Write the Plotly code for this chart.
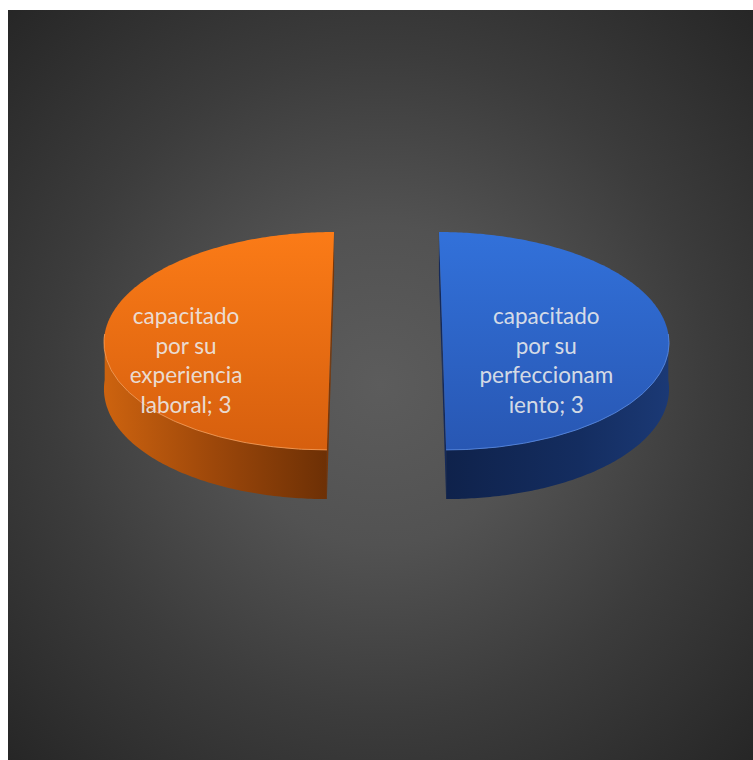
import math

import numpy as np
import plotly.graph_objects as go

# ---- data -------------------------------------------------------------
categories = [
    "capacitado por su perfeccionamiento",
    "capacitado por su experiencia laboral",
]
values = [3, 3]

# ---- styling ----------------------------------------------------------
TOP_FILL = [("#3271da", "#2857b3"), ("#fb7b17", "#d65f0e")]
SIDE_FILL = [
    [[0, "#0f224b"], [0.6, "#142d60"], [1, "#1b3975"]],
    [[0, "#cd630f"], [0.5, "#9c470a"], [1, "#6d3005"]],
]
CUT_FILL = ["#14295a", "#7a3607"]
RIM_COLOR = ["rgba(90,140,230,0.8)", "rgba(250,160,90,0.8)"]
LABEL_COLOR = "rgba(235,235,235,0.9)"

W, H_PX = 753, 760
ML, MT = 8, 10

# disc geometry in screen units (x right, y down)
CX, CY = 386.5, 334.0     # projected centre of the top face
RADIUS = 226.0            # horizontal radius
HALF_B = 108.5            # vertical half axis of top ellipse
PERSP = 0.064             # perspective strength (far side smaller)
THICK = 46.0              # slab thickness
EXPLODE = 0.247           # slice offset, fraction of radius
LABEL_R = [0.46, 0.64]    # label distance from slice centre, fraction of radius
LABEL_DROP = 29.0
LINE_GAP = 29.6
WRAP = 12


def wrap_label(text, width):
    """Word wrap; words longer than a line are cut on a fresh line."""
    out, cur = [], ""
    for word in text.split():
        cand = word if not cur else cur + " " + word
        if len(cand) <= width:
            cur = cand
            continue
        if cur:
            out.append(cur)
        while len(word) > width:
            out.append(word[:width])
            word = word[width:]
        cur = word
    if cur:
        out.append(cur)
    return out


def project(X, Z, depth):
    """X: right, Z: away from viewer (unit radius), depth: 0 top, 1 bottom."""
    s = 1.0 / (1.0 + PERSP * Z)
    x = CX + X * RADIUS * s
    y = CY - Z * HALF_B * s + depth * THICK * s
    return x, y


fig = go.Figure()

# ---- radial background ------------------------------------------------
bx0, bx1 = ML, W
by0, by1 = MT, H_PX
mx, my = (bx0 + bx1) / 2, (by0 + by1) / 2
hw, hh = (bx1 - bx0) / 2 * 1.42, (by1 - by0) / 2 * 1.42
fig.add_trace(go.Scatter(
    x=[mx - hw, mx + hw, mx + hw, mx - hw, mx - hw],
    y=[my - hh, my - hh, my + hh, my + hh, my - hh],
    mode="none", fill="toself",
    fillgradient=dict(type="radial", colorscale=[
        [0, "#5c5c5c"], [0.3, "#525252"], [0.62, "#3c3c3c"], [1, "#262626"]]),
    hoverinfo="skip",
))

# ---- slices -----------------------------------------------------------
total = float(sum(values))
start = 0.0
for i, (cat, val) in enumerate(zip(categories, values)):
    a0 = start / total * 2 * math.pi
    a1 = (start + val) / total * 2 * math.pi
    start += val
    am = (a0 + a1) / 2
    ex, ez = EXPLODE * math.sin(am), EXPLODE * math.cos(am)

    th = np.linspace(a0, a1, 241)
    ax = ex + np.sin(th)
    az = ez + np.cos(th)

    # flat cut faces (visible ones face the centre line)
    for ang in (a0, a1):
        fx = np.array([ex, ex + math.sin(ang), ex + math.sin(ang), ex])
        fz = np.array([ez, ez + math.cos(ang), ez + math.cos(ang), ez])
        fd = np.array([0, 0, 1, 1])
        px, py = project(fx, fz, fd)
        fig.add_trace(go.Scatter(
            x=np.append(px, px[0]), y=np.append(py, py[0]),
            mode="none", fill="toself", fillcolor=CUT_FILL[i], hoverinfo="skip"))

    # outer curved wall: front half only
    front = np.cos(th) <= 1e-9
    if front.any():
        sx, sz = ax[front], az[front]
        tx, ty = project(sx, sz, 0)
        bx, by = project(sx, sz, 1)
        wx = np.concatenate([tx, bx[::-1], tx[:1]])
        wy = np.concatenate([ty, by[::-1], ty[:1]])
        fig.add_trace(go.Scatter(
            x=wx, y=wy, mode="none", fill="toself",
            fillgradient=dict(type="horizontal", colorscale=SIDE_FILL[i],
                              start=float(wx.min()), stop=float(wx.max())),
            hoverinfo="skip"))

    # top face
    cx_, cy_ = project(ex, ez, 0)
    tx, ty = project(ax, az, 0)
    px = np.concatenate([[cx_], tx, [cx_]])
    py = np.concatenate([[cy_], ty, [cy_]])
    fig.add_trace(go.Scatter(
        x=px, y=py, mode="none", fill="toself",
        fillgradient=dict(type="vertical",
                          colorscale=[[0, TOP_FILL[i][0]], [1, TOP_FILL[i][1]]],
                          start=float(py.min()), stop=float(py.max())),
        hoverinfo="skip"))

    # light rim along the front edge of the top face
    if front.any():
        rx, ry = project(ax[front], az[front], 0)
        fig.add_trace(go.Scatter(
            x=rx, y=ry, mode="lines",
            line=dict(color=RIM_COLOR[i], width=1), hoverinfo="skip"))

    # data label, wrapped like the inside labels of the chart
    lines = wrap_label(f"{cat}; {val}", WRAP)
    lr = LABEL_R[i]
    lx, ly = project(ex + lr * math.sin(am), ez + lr * math.cos(am), 0)
    ly += LABEL_DROP
    n = len(lines)
    fig.add_trace(go.Scatter(
        x=[lx] * n,
        y=[ly + (k - (n - 1) / 2) * LINE_GAP for k in range(n)],
        mode="text", text=lines, textposition="middle center",
        textfont=dict(family="Lato, Carlito, sans-serif", size=22.5, color=LABEL_COLOR),
        hoverinfo="skip"))

fig.update_layout(
    width=W, height=H_PX,
    margin=dict(l=ML, r=0, t=MT, b=0, pad=0),
    paper_bgcolor="white", plot_bgcolor="#262626",
    showlegend=False,
    xaxis=dict(range=[ML, W], visible=False, fixedrange=True),
    yaxis=dict(range=[H_PX, MT], visible=False, fixedrange=True),
)

fig.write_html("out.html")
